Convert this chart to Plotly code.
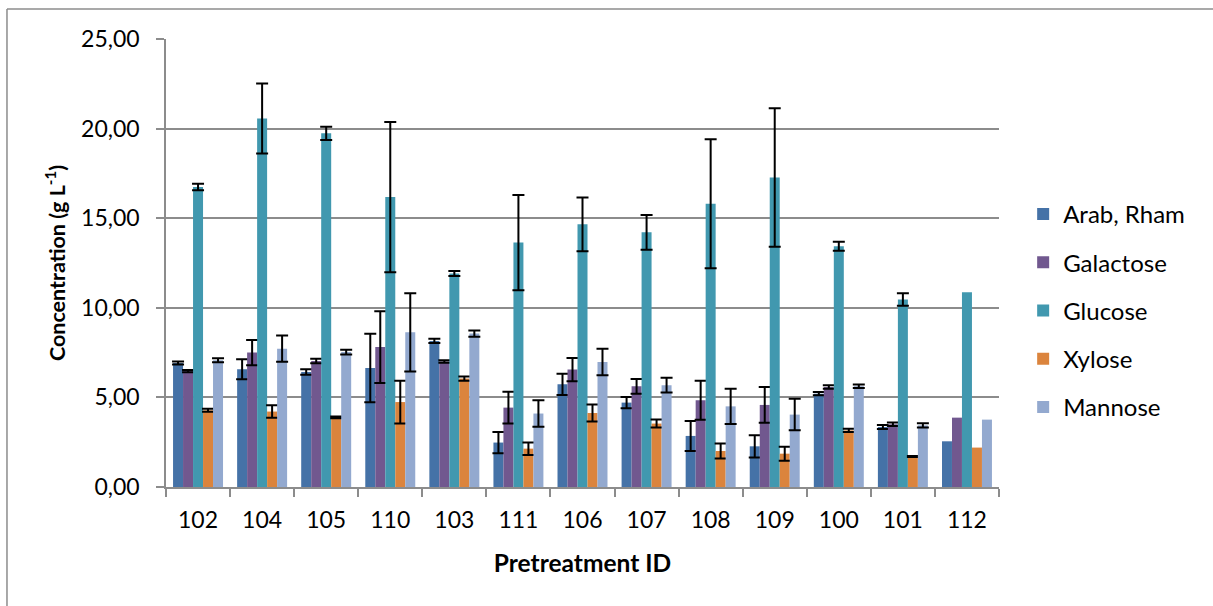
import numpy as np
import plotly.graph_objects as go

# Pretreatment IDs in plotting order
pretreatment_ids = ["102", "104", "105", "110", "103", "111", "106",
                    "107", "108", "109", "100", "101", "112"]

# Mean sugar concentrations (g/L) and standard deviations (None = no error bar)
arab_rham = [6.92, 6.57, 6.42, 6.64, 8.15, 2.48, 5.73, 4.71, 2.85, 2.27, 5.21, 3.35, 2.55]
arab_rham_err = [0.08, 0.56, 0.15, 1.91, 0.12, 0.59, 0.59, 0.31, 0.84, 0.62, 0.09, 0.11, None]

galactose = [6.47, 7.50, 7.03, 7.81, 7.01, 4.43, 6.55, 5.62, 4.84, 4.58, 5.58, 3.50, 3.87]
galactose_err = [0.06, 0.70, 0.13, 2.00, 0.07, 0.88, 0.65, 0.41, 1.09, 1.00, 0.10, 0.10, None]

glucose = [16.74, 20.56, 19.74, 16.18, 11.91, 13.64, 14.66, 14.21, 15.81, 17.27, 13.43, 10.46, 10.87]
glucose_err = [0.18, 1.95, 0.37, 4.19, 0.14, 2.66, 1.50, 0.97, 3.60, 3.86, 0.25, 0.35, None]

xylose = [4.28, 4.21, 3.89, 4.74, 6.05, 2.14, 4.13, 3.54, 2.01, 1.86, 3.16, 1.70, 2.20]
xylose_err = [0.08, 0.35, 0.05, 1.19, 0.12, 0.35, 0.47, 0.22, 0.42, 0.39, 0.09, 0.03, None]

mannose = [7.07, 7.72, 7.53, 8.63, 8.56, 4.10, 6.98, 5.68, 4.50, 4.04, 5.62, 3.44, 3.76]
mannose_err = [0.11, 0.73, 0.13, 2.18, 0.17, 0.74, 0.74, 0.41, 0.98, 0.88, 0.10, 0.12, None]

# Y-axis ticks with decimal-comma labels
y_tickvals = [0, 5, 10, 15, 20, 25]
y_ticktext = ["0,00", "5,00", "10,00", "15,00", "20,00", "25,00"]

series = [
    ("Arab, Rham", arab_rham, arab_rham_err, "#4572A7"),
    ("Galactose", galactose, galactose_err, "#71588F"),
    ("Glucose", glucose, glucose_err, "#4198AF"),
    ("Xylose", xylose, xylose_err, "#DB843D"),
    ("Mannose", mannose, mannose_err, "#93A9CF"),
]

FONT = "Lato, Carlito, 'Open Sans', sans-serif"
GRID = "#8c8c8c"

fig = go.Figure()
for name, vals, errs, color in series:
    fig.add_trace(go.Bar(
        name=name,
        x=pretreatment_ids,
        y=vals,
        legendgroup=name,
        marker=dict(color=color, line=dict(width=0)),
        error_y=dict(
            type="data",
            array=np.array(errs, dtype=float),  # NaN -> no bar drawn
            visible=True,
            color="black",
            thickness=2,
            width=6,
        ),
    ))

fig.update_layout(
    width=1213,
    height=606,
    margin=dict(l=166, r=214, t=39, b=119, autoexpand=False),
    paper_bgcolor="white",
    plot_bgcolor="white",
    barmode="group",
    bargap=0.22,
    bargroupgap=0,
    font=dict(family=FONT, size=23, color="black"),
    showlegend=True,
    legend=dict(
        x=1.029, xanchor="left",
        y=0.394, yanchor="middle",
        traceorder="grouped",
        tracegroupgap=14,
        font=dict(family=FONT, size=24, color="black"),
        bgcolor="rgba(0,0,0,0)",
    ),
    xaxis=dict(
        type="category",
        showline=True, linecolor=GRID, linewidth=1.5,
        ticks="outside", tickson="boundaries", ticklen=8,
        tickcolor=GRID, tickwidth=1.5,
        showgrid=False,
        tickfont=dict(family=FONT, size=23, color="black"),
        ticklabelstandoff=12,
        title=dict(text="Pretreatment ID", standoff=23,
                   font=dict(family=FONT, size=24.5, color="black", weight="bold")),
    ),
    yaxis=dict(
        range=[0, 25],
        tickvals=y_tickvals, ticktext=y_ticktext,
        showline=True, linecolor=GRID, linewidth=1.5,
        ticks="outside", ticklen=8, tickcolor=GRID, tickwidth=1.5,
        showgrid=True, gridcolor=GRID, gridwidth=1.5,
        zeroline=False,
        tickfont=dict(family=FONT, size=23, color="black"),
        ticklabelstandoff=12,
        title=dict(text="Concentration (g L<sup>-1</sup>)", standoff=10,
                   font=dict(family=FONT, size=21.5, color="black", weight="bold")),
    ),
    shapes=[
        # chart frame (top and left edges)
        dict(type="line", xref="paper", yref="paper",
             x0=-0.1909, x1=1.27, y0=1.067, y1=1.067,
             line=dict(color=GRID, width=1.5)),
        dict(type="line", xref="paper", yref="paper",
             x0=-0.1909, x1=-0.1909, y0=1.067, y1=-0.3,
             line=dict(color=GRID, width=1.5)),
    ],
)

fig.write_html("out.html")
